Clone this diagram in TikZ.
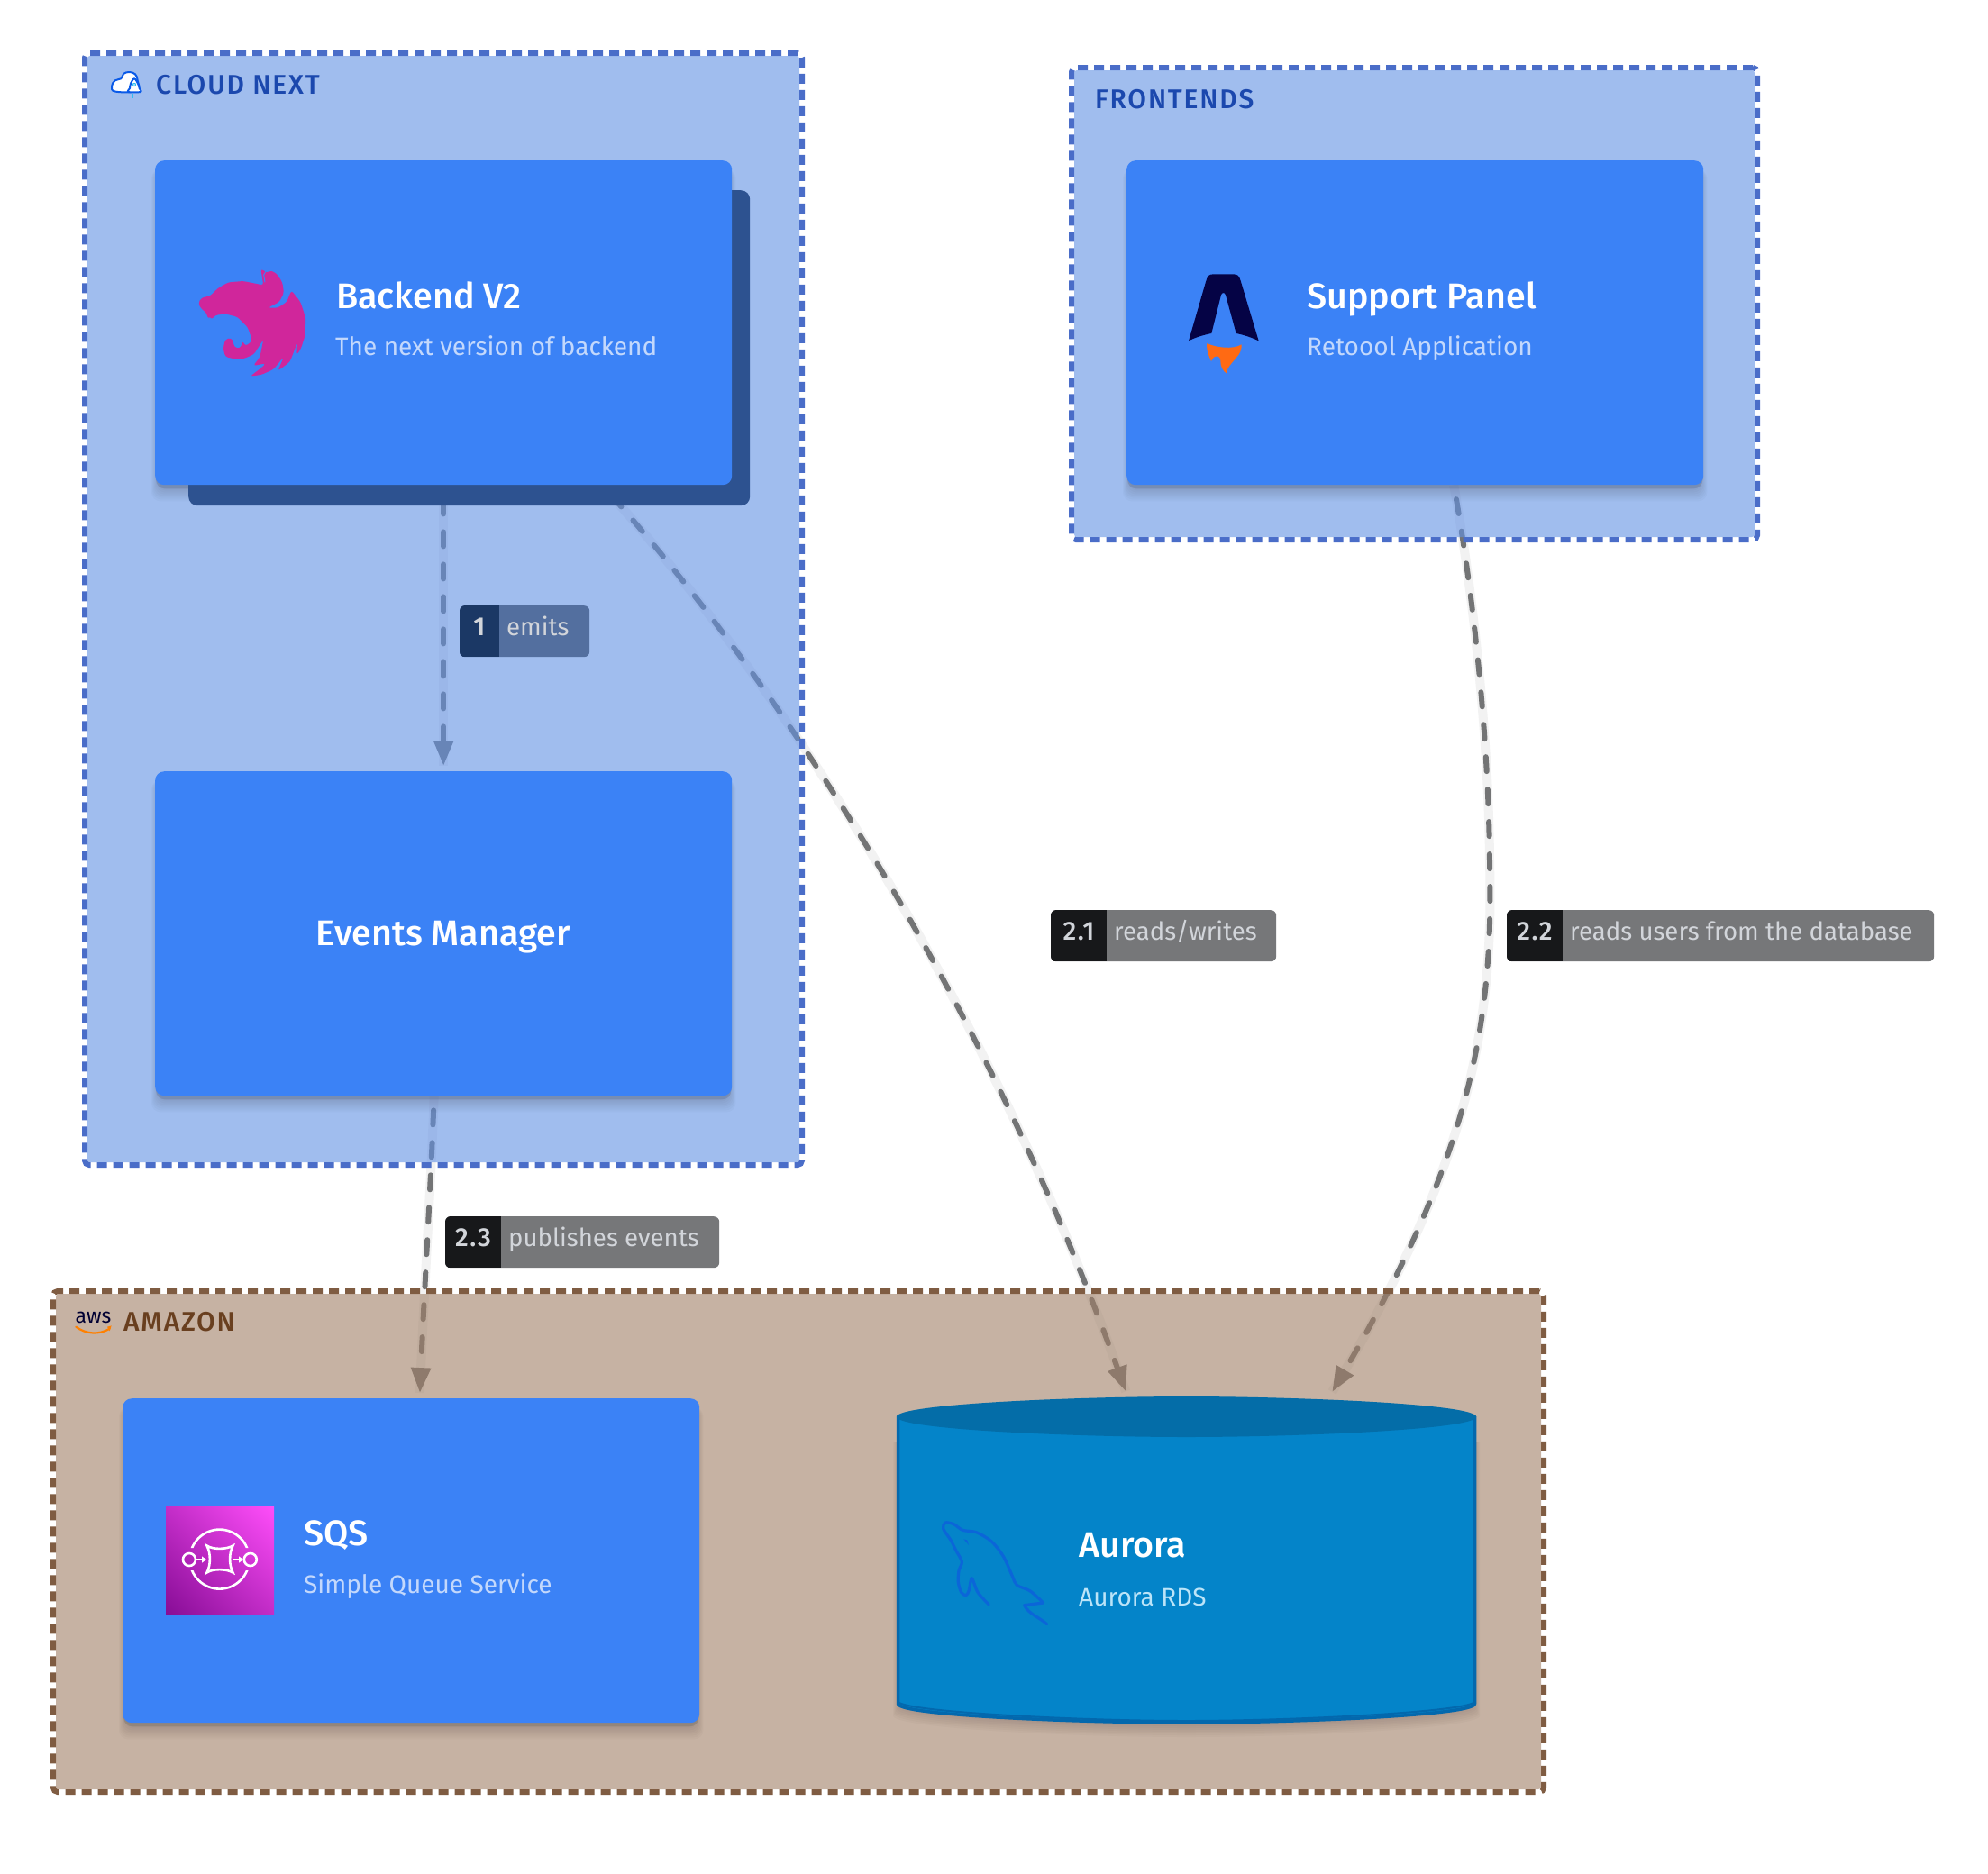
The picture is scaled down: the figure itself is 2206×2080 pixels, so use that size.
\documentclass[tikz,border=0pt]{standalone}
\usepackage{fontspec}
\setmainfont{Fira Sans}
\newfontfamily\medfont{Fira Sans Medium}
\newfontfamily\spacedfont[LetterSpace=6]{Fira Sans Medium}
\newfontfamily\numfont[LetterSpace=5]{Fira Sans Medium}
\usetikzlibrary{arrows.meta,calc,bending,shadings}
\definecolor{cardblue}{HTML}{3B82F6}
\definecolor{stackblue}{HTML}{2D5290}
\definecolor{groupblue}{HTML}{6291E3}
\definecolor{grouptan}{HTML}{A07F66}
\definecolor{edgeblue}{HTML}{4A6DC8}
\definecolor{edgebrown}{HTML}{7F5C42}
\definecolor{titleblue}{HTML}{1B48AE}
\definecolor{titlebrown}{HTML}{693F1F}
\definecolor{subblue}{HTML}{C3D8FC}
\definecolor{subaqua}{HTML}{BCE4F8}
\definecolor{edgegray}{HTML}{737475}
\definecolor{halogray}{HTML}{F2F2F2}
\definecolor{lblgray}{HTML}{767779}
\definecolor{lbldark}{HTML}{17181A}
\definecolor{lblblue}{HTML}{536F9F}
\definecolor{lblnavy}{HTML}{1B3865}
\definecolor{lbltext}{HTML}{D2D5DA}
\definecolor{nestpink}{HTML}{D0269B}
\definecolor{rocketnavy}{HTML}{050345}
\definecolor{flame}{HTML}{FF6A13}
\definecolor{cylfill}{HTML}{0484C9}
\definecolor{cylside}{HTML}{0368AD}
\definecolor{cyltop}{HTML}{046DA8}
\definecolor{dolphin}{HTML}{0B66D8}
\definecolor{cloudline}{HTML}{0A5AE8}
\definecolor{sqslow}{HTML}{870D96}
\definecolor{sqsmid}{HTML}{C32DC8}
\definecolor{sqshigh}{HTML}{FF4EFA}
\pgfdeclarelayer{edgelayer}
\pgfdeclarelayer{grouplayer}
\pgfdeclarelayer{shadowlayer}
\pgfsetlayers{edgelayer,grouplayer,shadowlayer,main}
\tikzset{
  cardbox/.style={fill=cardblue,rounded corners=10pt,inner sep=0pt,minimum width=640pt,minimum height=360pt,anchor=north west},
  stackbox/.style={fill=stackblue,rounded corners=10pt,inner sep=0pt,anchor=north west},
  groupframe/.style={draw=#1,line width=6pt,dash pattern=on 11pt off 7pt,rounded corners=5pt,inner sep=0pt,outer sep=0pt,anchor=north west},
  cardtitle/.style={text=white,anchor=base west,inner sep=0pt,font=\medfont\fontsize{39.5}{46}\selectfont},
  cardsub/.style={text=subblue,anchor=base west,inner sep=0pt,font=\fontsize{28}{34}\selectfont},
  grouptitle/.style={text=#1,anchor=base west,inner sep=0pt,font=\spacedfont\fontsize{30}{34}\selectfont},
  numtext/.style={text=lbltext,anchor=base,inner sep=0pt,font=\numfont\fontsize{29}{32}\selectfont},
  lbltext/.style={text=lbltext,anchor=base west,inner sep=0pt,font=\fontsize{27.6}{32}\selectfont},
  conn/.style={draw=edgegray,line width=6pt,dash pattern=on 16pt off 20pt,dash phase=20pt,line cap=round,
    -{Triangle[length=28pt,width=21pt]},shorten >=6pt,
    preaction={draw=halogray,line width=10pt,solid,arrows=-,line cap=butt,shorten >=6pt}},
}
\newcommand{\castshadow}[1]{%
  \begin{pgfonlayer}{shadowlayer}
  \fill[black,opacity=.10,rounded corners=10pt] ($(#1.north west)+(1,8)$) rectangle ($(#1.south east)+(-1,4)$);
  \foreach \s in {0,2,...,14}
    \fill[black,opacity=.018,rounded corners=10pt]
      ($(#1.north west)+(3-\s/2,10)$) rectangle ($(#1.south east)+(\s/2-3,4+\s)$);
  \end{pgfonlayer}}
% name, x, y, width, dark width, body colour, dark colour, number, text
\newcommand{\edgelabel}[9]{%
  \node[fill=#6,rounded corners=6pt,inner sep=0pt,minimum width=#4pt,minimum height=57pt,anchor=north west] (#1) at (#2,#3) {};
  \begin{scope}
    \clip[rounded corners=6pt] (#1.north west) rectangle (#1.south east);
    \fill[#7] (#1.north west) rectangle ($(#1.south west)+(#5,0)$);
  \end{scope}
  \node[numtext] (#1num) at ($(#1.north west)+(#5/2,33)$) {#8};
  \node[lbltext] (#1txt) at ($(#1.north west)+(#5+8,33)$) {#9};}
\begin{document}
\begin{tikzpicture}[x=1pt,y=-1pt]
\useasboundingbox (0,0) rectangle (2206,2080);
\begin{pgfonlayer}{edgelayer}
  \fill[white] (0,0) rectangle (2206,2080);
\end{pgfonlayer}

% ---------- groups
\begin{pgfonlayer}{grouplayer}
  \node[groupframe=edgeblue,minimum width=796pt,minimum height=1234pt] (cloud) at (94,59) {};
  \node[groupframe=edgeblue,minimum width=761pt,minimum height=524pt] (frontends) at (1189,75) {};
  \node[groupframe=edgebrown,minimum width=1654pt,minimum height=556pt] (amazon) at (59,1433) {};
  \fill[groupblue,opacity=.6,rounded corners=3pt] ($(cloud.north west)+(3,3)$) rectangle ($(cloud.south east)+(-3,-3)$);
  \fill[groupblue,opacity=.6,rounded corners=3pt] ($(frontends.north west)+(3,3)$) rectangle ($(frontends.south east)+(-3,-3)$);
  \fill[grouptan,opacity=.6,rounded corners=3pt] ($(amazon.north west)+(3,3)$) rectangle ($(amazon.south east)+(-3,-3)$);
\end{pgfonlayer}

\node[grouptitle=titleblue] (cloudtitle) at (173,104) {CLOUD NEXT};
\node[grouptitle=titleblue] (fronttitle) at (1215,120) {FRONTENDS};
\node[grouptitle=titlebrown] (amazontitle) at (137,1477) {AMAZON};

% ---------- cloud icon
\begin{scope}[shift={(115,70)},x=.3333pt,y=-.3333pt,line width=2pt,line join=round]
  \draw[cloudline,fill=white] plot[smooth cycle,tension=.7] coordinates {(40,95) (27,78) (38,58) (58,52) (66,36) (85,30) (105,37) (113,58) (112,92)};
  \draw[cloudline,fill=white] plot[smooth cycle,tension=.6] coordinates {(102,52) (114,68) (119,84) (123,96) (82,96) (87,84) (90,68)};
  \fill[cyan!80!white] (102,72) circle (6.5);
  \fill[white] (102,72) circle (2.5);
  \draw[cyan!80!white,line width=1.4pt] (97,102) -- (97,116);
\end{scope}

% ---------- aws icon
\node[text=black!80!blue,anchor=base,inner sep=0pt,font=\fontsize{23}{26}\selectfont] (awslogo) at (103.5,1468) {aws};
\begin{scope}[shift={(75,1450)},x=.3333pt,y=-.3333pt]
  \draw[orange,line width=2.2pt,line cap=round] (28,68) .. controls (60,92) and (105,96) .. (140,74);
  \fill[orange] (146,64) -- (132,68) -- (140,82) -- cycle;
\end{scope}

% ---------- backend
\node[stackbox,minimum width=623pt,minimum height=350pt] (stack) at (209,211) {};
\node[cardbox] (backend) at (172,178) {};
\castshadow{backend}
\node[cardtitle] (backendtitle) at (373,342) {Backend V2};
\node[cardsub] (backendsub) at (372,394) {The next version of backend};
\begin{scope}[shift={(210,290)},x=.3333pt,y=-.3333pt]
  \fill[nestpink,rounded corners=3pt] (30,140) -- (40,122) -- (70,115) -- (95,90) -- (130,70) -- (180,66) -- (225,75) -- (247,80)
    -- (238,25) -- (262,40) -- (268,30) -- (290,40) -- (310,70) -- (315,105) -- (300,135) -- (262,155) -- (295,155) -- (325,135) -- (340,97)
    -- (370,135) -- (388,190) -- (385,250) -- (372,290) -- (358,312) -- (360,270) -- (335,335) -- (295,365) -- (315,318) -- (280,360)
    -- (240,378) -- (203,383) -- (240,355) -- (255,340) -- (213,348) -- (235,320) -- (247,260) -- (215,310) -- (180,325) -- (150,325)
    -- (120,318) -- (113,290) -- (120,260) -- (140,255) -- (147,270) -- (150,287) -- (170,290) -- (178,265) -- (187,283) -- (210,265)
    -- (195,220) -- (160,185) -- (120,175) -- (85,180) -- (75,195) -- (70,182) -- (62,192) -- (58,172) -- (40,158) -- cycle;
  \draw[cardblue,line width=1pt] (258,28) -- (248,45) -- (252,70);
\end{scope}

% ---------- events manager
\node[cardbox] (events) at (172,856) {};
\castshadow{events}
\node[text=white,inner sep=0pt,anchor=base,font=\medfont\fontsize{39.5}{46}\selectfont] (eventstitle) at (492,1049) {Events Manager};

% ---------- support panel
\node[cardbox] (support) at (1250,178) {};
\castshadow{support}
\node[cardtitle] (supporttitle) at (1450,342) {Support Panel};
\node[cardsub] (supportsub) at (1450,394) {Retoool Application};
\begin{scope}[shift={(1310,295)},x=.3333pt,y=-.3333pt]
  \fill[rocketnavy] (27,250) -- (85,50) .. controls (90,33) and (95,28) .. (110,28) -- (175,28) .. controls (190,28) and (195,33) .. (200,50)
    -- (260,250) .. controls (235,238) and (210,230) .. (185,225) -- (150,97) .. controls (147,88) and (138,88) .. (135,97) -- (103,225)
    .. controls (78,230) and (50,238) .. (27,250) -- cycle;
  \fill[flame] (88,258) .. controls (115,272) and (175,280) .. (203,262) .. controls (205,290) and (185,305) .. (172,322)
    .. controls (158,338) and (152,348) .. (156,361) .. controls (140,350) and (132,335) .. (133,315) .. controls (132,300) and (115,290) .. (102,318)
    .. controls (95,300) and (85,285) .. (88,258) -- cycle;
\end{scope}

% ---------- SQS
\node[cardbox] (sqs) at (136,1552) {};
\castshadow{sqs}
\node[cardtitle] (sqstitle) at (337,1715) {SQS};
\node[cardsub] (sqssub) at (337,1768) {Simple Queue Service};
\begin{scope}[yshift=1pt]
\shade[lower left=sqslow,upper right=sqshigh,upper left=sqsmid,lower right=sqsmid]
  (184,1672) rectangle (304,1792);
\begin{scope}[white,line width=2.6pt]
  \begin{scope}
    \clip (200,1660) rectangle (290,1719) (200,1744) rectangle (290,1800);
    \draw (243.6,1731.6) circle (33);
  \end{scope}
  \draw (210,1732) circle (7);
  \draw (277.8,1732) circle (7);
  \draw (229.5,1716.5) .. controls (236,1721) and (251,1721) .. (258.5,1716.5)
     .. controls (254,1725) and (254,1738) .. (258.5,1746.5)
     .. controls (251,1742) and (236,1742) .. (229.5,1746.5)
     .. controls (234,1738) and (234,1725) .. (229.5,1716.5) -- cycle;
  \draw[line width=2pt,-{Triangle[length=5pt,width=7pt]}] (217.5,1732) -- (229,1732);
  \draw[line width=2pt,-{Triangle[length=5pt,width=7pt]}] (258,1732) -- (270,1732);
\end{scope}
\end{scope}

% ---------- Aurora cylinder
\node[inner sep=0pt,minimum width=643pt,minimum height=364pt,anchor=north west] (aurora) at (995,1550) {};
\begin{pgfonlayer}{shadowlayer}
  \foreach \s in {0,2,...,14}
    \fill[black,opacity=.02] (998-\s/2,1600) -- (998-\s/2,1891+\s) .. controls (1000,1905+\s) and (1200,1914+\s) .. (1316.5,1914+\s)
       .. controls (1433,1914+\s) and (1635,1905+\s) .. (1635+\s/2,1891+\s) -- (1635+\s/2,1600) -- cycle;
\end{pgfonlayer}
\draw[cylside,fill=cylfill,line width=3.5pt,line join=round] (996.5,1572) -- (996.5,1891) .. controls (996.5,1904) and (1200,1912) .. (1316.5,1912)
   .. controls (1433,1912) and (1636.5,1904) .. (1636.5,1891) -- (1636.5,1572) -- cycle;
\fill[cyltop] (995,1572.5) .. controls (995,1558) and (1200,1550) .. (1316.5,1550) .. controls (1433,1550) and (1638,1558) .. (1638,1572.5)
   .. controls (1638,1587) and (1433,1595) .. (1316.5,1595) .. controls (1200,1595) and (995,1587) .. (995,1572.5) -- cycle;
\draw[cylside,line width=2pt] (996,1888) .. controls (996,1900) and (1200,1910) .. (1316.5,1910)
   .. controls (1433,1910) and (1637,1900) .. (1637,1888);
\begin{scope}[shift={(1040,1680)},x=.3333pt,y=-.3333pt]
  \draw[dolphin,line width=3.2pt,line join=round,line cap=round] plot[smooth,tension=.5] coordinates {(172,303) (135,262) (115,215) (106,255) (96,272) (80,262) (70,228) (72,190) (82,160)
     (62,122) (45,88) (20,50) (27,30) (55,35) (85,55) (130,62) (180,92) (220,142) (250,208) (265,238) (310,258) (353,297)};
  \draw[dolphin,line width=3.2pt,line join=round,line cap=round] (353,297) -- (290,305) .. controls (305,335) and (340,345) .. (365,368);
  \fill[dolphin] (88,85) -- (100,88) -- (105,105) -- cycle;
\end{scope}
\node[cardtitle] (auroratitle) at (1197,1728) {Aurora};
\node[cardsub,text=subaqua] (aurorasub) at (1197,1782) {Aurora RDS};

% ---------- connectors (under the translucent groups)
\begin{pgfonlayer}{edgelayer}
  \draw[conn] (backend.south) -- (events.north);
  \draw[conn] ([xshift=176pt]backend.south) .. controls (845,735) and (1090,1090) .. ([xshift=-65.5pt]aurora.north);
  \draw[conn] ([xshift=43pt]support.south) .. controls (1635,660) and (1652,820) .. (1653,957)
       .. controls (1658,1150) and (1625,1300) .. ([xshift=158.5pt]aurora.north);
  \draw[conn] ([xshift=-10.5pt]events.south) .. controls (478,1320) and (470,1440) .. ([xshift=9.5pt]sqs.north);
\end{pgfonlayer}

% ---------- connector labels
\edgelabel{lone}{510}{672}{144}{44}{lblblue}{lblnavy}{1}{emits}
\edgelabel{ltwoone}{1166}{1010}{250}{62}{lblgray}{lbldark}{2.1}{reads/writes}
\edgelabel{ltwotwo}{1672}{1010}{474}{62}{lblgray}{lbldark}{2.2}{reads users from the database}
\edgelabel{ltwothree}{494}{1350}{304}{62}{lblgray}{lbldark}{2.3}{publishes events}
\end{tikzpicture}
\end{document}
